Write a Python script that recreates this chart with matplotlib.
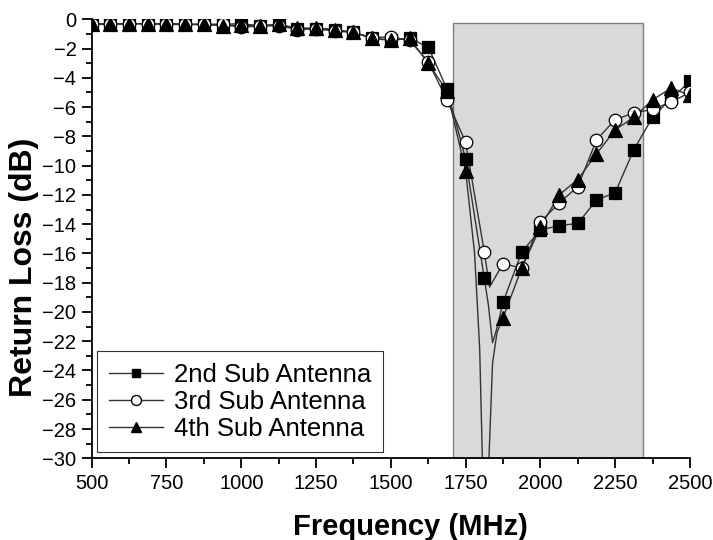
import matplotlib.pyplot as plt

plt.rcParams['font.family'] = ['Liberation Sans', 'DejaVu Sans']

freq = [500, 562.5, 625, 687.5, 750, 812.5, 875, 937.5, 1000, 1062.5, 1125,
        1187.5, 1250, 1312.5, 1375, 1437.5, 1500, 1562.5, 1625, 1687.5, 1750,
        1812.5, 1875, 1937.5, 2000, 2062.5, 2125, 2187.5, 2250, 2312.5, 2375,
        2437.5, 2500]

sub2 = [-0.3, -0.35, -0.3, -0.3, -0.3, -0.35, -0.35, -0.35, -0.3, -0.45, -0.35,
        -0.65, -0.65, -0.7, -0.9, -1.3, -1.4, -1.3, -1.9, -4.75, -9.55,
        -17.7, -19.35, -15.9, -14.4, -14.1, -13.95, -12.35, -11.85, -8.9, -6.7,
        -5.4, -4.25]
sub3 = [-0.3, -0.35, -0.3, -0.3, -0.35, -0.35, -0.35, -0.35, -0.55, -0.45, -0.45,
        -0.7, -0.65, -0.8, -0.9, -1.25, -1.2, -1.45, -2.9, -5.5, -8.4,
        -15.9, -16.7, -17.0, -13.85, -12.55, -11.45, -8.25, -6.85, -6.4, -6.15,
        -5.65, -5.0]
sub4 = [-0.3, -0.35, -0.3, -0.3, -0.3, -0.35, -0.35, -0.45, -0.4, -0.45, -0.35,
        -0.6, -0.6, -0.7, -0.9, -1.3, -1.45, -1.3, -3.0, -4.9, -10.35,
        -33.0, -20.4, -17.0, -14.2, -12.0, -10.95, -9.2, -7.55, -6.7, -5.5,
        -4.7, -5.2]

# extra points of the traces between markers (resonance dip)
sub2_extra_f = [1826, 1840, 1852]
sub2_extra_v = [-19.5, -22.1, -21.3]
sub3_extra_f = [1830]
sub3_extra_v = [-18.3]
sub4_extra_f = [1780, 1797, 1806, 1828, 1840, 1855]
sub4_extra_v = [-16.0, -22.5, -30.0, -30.0, -23.5, -21.4]

band = (1708, 2342)
band_top = -0.23

labels = ['2nd Sub Antenna', '3rd Sub Antenna', '4th Sub Antenna']


def trace(f, v, ef, ev):
    pts = sorted(list(zip(f, v)) + list(zip(ef, ev)))
    return [p[0] for p in pts], [p[1] for p in pts]


fig = plt.figure(figsize=(7.13, 5.4), dpi=100)
ax = fig.add_axes([0.1286, 0.1513, 0.8391, 0.8130])

ax.fill_between(band, [band_top, band_top], [-30, -30], facecolor='#d9d9d9',
                edgecolor='#7f7f7f', linewidth=1.0, zorder=1)

series = [
    (sub2, sub2_extra_f, sub2_extra_v, 's', 'black', 8),
    (sub3, sub3_extra_f, sub3_extra_v, 'o', 'white', 9),
    (sub4, sub4_extra_f, sub4_extra_v, '^', 'black', 9.5),
]
for (vals, ef, ev, mk, fc, ms), lab in zip(series, labels):
    lx, ly = trace(freq, vals, ef, ev)
    ax.plot(lx, ly, '-', color='#333333', linewidth=1.0, zorder=2)
    ax.plot(freq, vals, linestyle='none', marker=mk, markersize=ms,
            markerfacecolor=fc, markeredgecolor='black', markeredgewidth=0.9,
            zorder=3)

handles = []
for (vals, ef, ev, mk, fc, ms), lab in zip(series, labels):
    h, = ax.plot([], [], '-', color='#333333', linewidth=1.0, marker=mk,
                 markersize=ms * 0.8, markerfacecolor=fc,
                 markeredgecolor='black', label=lab)
    handles.append(h)

ax.set_xlim(500, 2500)
ax.set_ylim(-30, 0)
ax.set_xticks(range(500, 2501, 250))
ax.set_xticks(range(625, 2500, 250), minor=True)
ax.set_yticks(range(-30, 1, 2))
ax.set_yticks(range(-29, 0, 2), minor=True)

ax.spines['top'].set_visible(False)
ax.spines['right'].set_visible(False)
ax.spines['left'].set_linewidth(1.3)
ax.spines['bottom'].set_linewidth(1.3)
ax.tick_params(which='major', direction='out', length=7, width=1.3,
               labelsize=14.5, pad=4)
ax.tick_params(which='minor', direction='out', length=4, width=1.3)

ax.set_xlabel('Frequency (MHz)', fontsize=21, fontweight='bold')
ax.set_ylabel('Return Loss (dB)', fontsize=23, fontweight='bold')
ax.xaxis.set_label_coords(0.532, -0.1246)
ax.yaxis.set_label_coords(-0.088, 0.436)

leg = ax.legend(handles=handles, loc='upper left',
                bbox_to_anchor=(0.009, 0.244), fontsize=18.5, frameon=True,
                fancybox=False, handlelength=2.1, handletextpad=0.45,
                labelspacing=0.12, borderpad=0.45, borderaxespad=0)
leg.get_frame().set_edgecolor('black')
leg.get_frame().set_linewidth(0.8)

plt.savefig('out.png', dpi=100)
plt.close()
